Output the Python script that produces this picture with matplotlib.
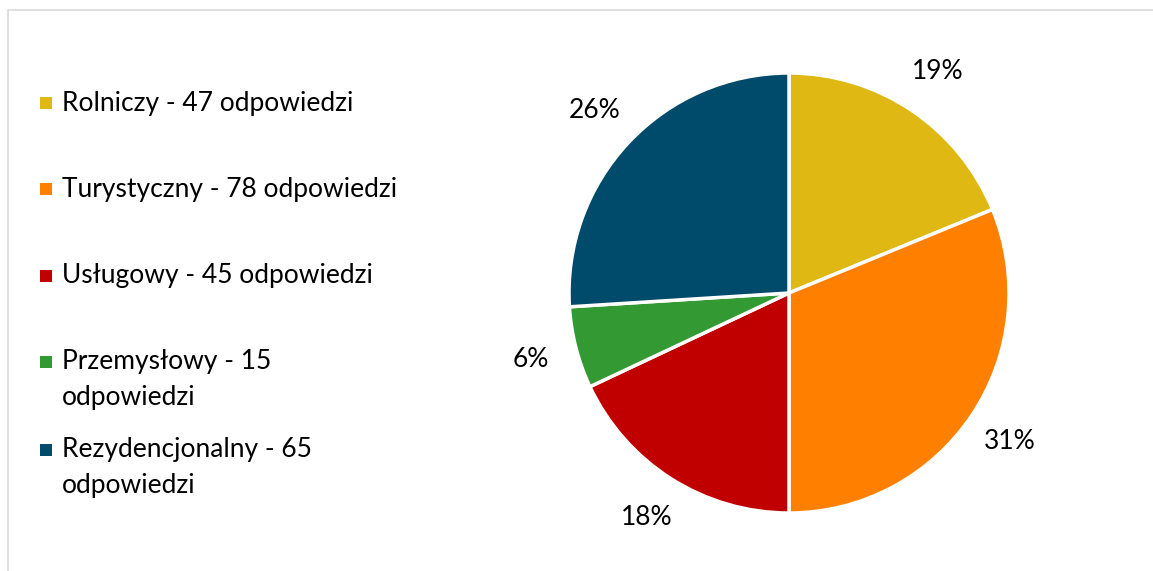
import matplotlib.pyplot as plt
from matplotlib.patches import Rectangle

categories = ["Rolniczy", "Turystyczny", "Usługowy", "Przemysłowy", "Rezydencjonalny"]
counts = [47, 78, 45, 15, 65]
legend_labels = [
    "Rolniczy - 47 odpowiedzi",
    "Turystyczny - 78 odpowiedzi",
    "Usługowy - 45 odpowiedzi",
    "Przemysłowy - 15\nodpowiedzi",
    "Rezydencjonalny - 65\nodpowiedzi",
]
colors = ["#E0B814", "#FF7F00", "#C00000", "#339933", "#004B6B"]

plt.rcParams["font.family"] = ["Lato", "DejaVu Sans"]

W, H = 1153, 571
fig = plt.figure(figsize=(W / 100, H / 100), dpi=100)

# light chart border (cut off at right and bottom)
fig.patches.append(Rectangle((8 / W, -0.1), 1.2, 1 - 10 / H + 0.1,
                             transform=fig.transFigure, fill=False,
                             edgecolor="#d9d9d9", linewidth=1.2))

cx, cy, r = 789, 293, 220
ax = fig.add_axes([(cx - r) / W, (H - cy - r) / H, 2 * r / W, 2 * r / H])
ax.pie(counts, colors=colors, startangle=90, counterclock=False,
       autopct=lambda p: f"{p:.0f}%", pctdistance=1.21,
       wedgeprops=dict(edgecolor="white", linewidth=2.5),
       textprops=dict(fontsize=19, color="#000000"))
ax.set_xlim(-1, 1)
ax.set_ylim(-1, 1)
ax.set_aspect("equal")
ax.axis("off")

# legend drawn by hand to match the spacing of the original
row_y = [103, 189, 276, 362, 450]
line_gap = 36
for y, lab, col in zip(row_y, legend_labels, colors):
    fig.patches.append(Rectangle((40 / W, 1 - (y + 6) / H), 12 / W, 12 / H,
                                 transform=fig.transFigure, facecolor=col,
                                 edgecolor="none"))
    for i, line in enumerate(lab.split("\n")):
        fig.text(62 / W, 1 - (y + i * line_gap) / H, line, fontsize=19,
                 va="center", ha="left", color="#000000")

fig.savefig("out.png", dpi=100)
